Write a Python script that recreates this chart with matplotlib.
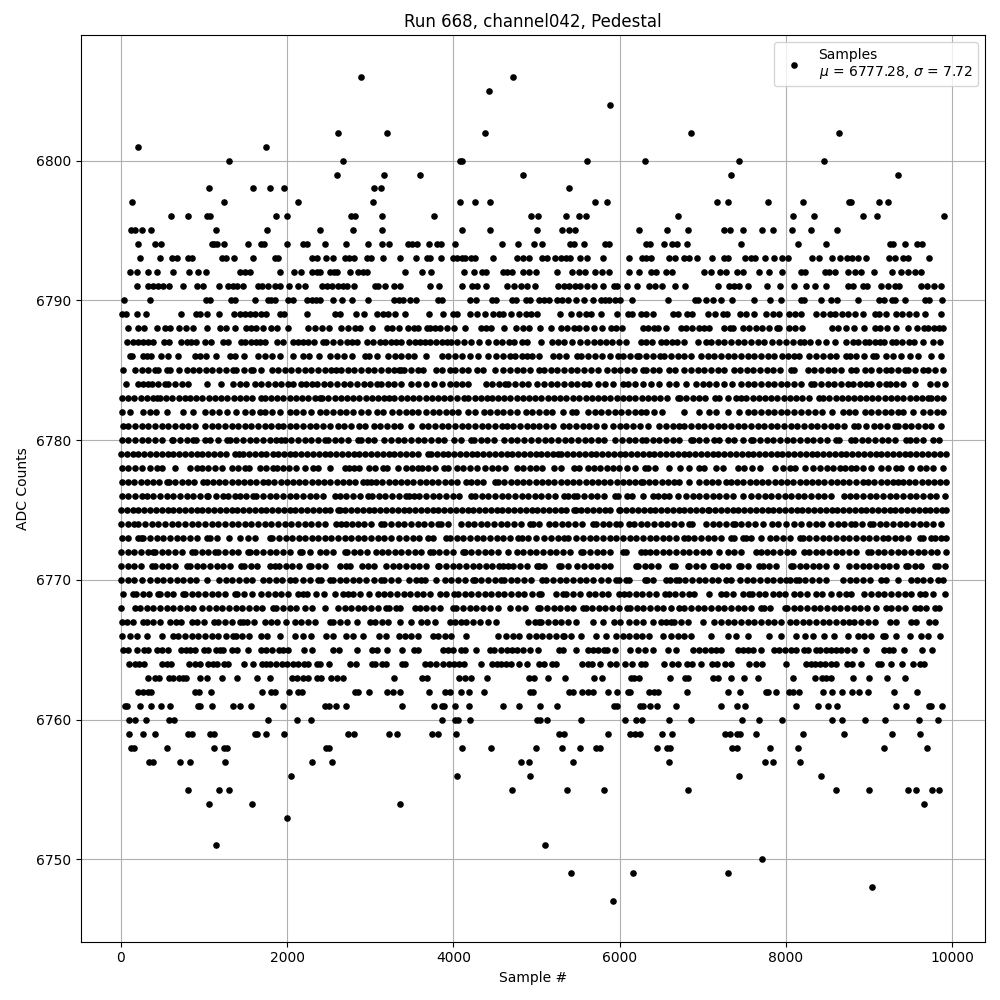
import matplotlib
matplotlib.use('Agg')
import matplotlib.pyplot as plt

# sample numbers, one list per ADC level
s6806 = [2893, 4716]
s6805 = [4426]
s6804 = [5887]
s6802 = [2616, 3207, 4378, 6865, 8640]
s6801 = [201, 1746]
s6800 = [1300, 2676, 4084, 4108, 5610, 6310, 7433, 8459]
s6799 = [2604, 3171, 3593, 4837, 7336, 9352]
s6798 = [1058, 1590, 1795, 1964, 3050, 3123, 5392]
s6797 = [129, 1239, 2133, 3038, 4076, 4257, 4439, 5706, 5851, 7167, 7300, 7783, 8205, 8756, 8789, 9123, 9232]
s6796 = [600, 805, 1038, 1070, 1867, 2000, 2773, 2821, 3147, 3762, 4934, 5018, 5356, 5513, 5598, 6708, 8084, 8338, 8930, 9099, 9908]
s6795 = [117, 165, 249, 358, 1143, 1759, 2398, 2797, 3147, 4100, 4439, 5005, 5307, 5388, 5468, 6237, 6575, 6829, 7251, 7324, 7481, 7710, 7843, 8072, 8301, 8616]
s6794 = [201, 406, 479, 1095, 1123, 1151, 1239, 1529, 1690, 1718, 2000, 2193, 2233, 2459, 2712, 2978, 3135, 3231, 3449, 3497, 3557, 3706, 3799, 3847, 4016, 4587, 4777, 4970, 5066, 5408, 5448, 5569, 5827, 5875, 6322, 6362, 6539, 6628, 6696, 6817, 7457, 8145, 8483, 9259, 9292, 9440, 9581, 9634]
s6793 = [225, 467, 612, 672, 805, 853, 1215, 1264, 1360, 1590, 1855, 1891, 2302, 2362, 2467, 2555, 2700, 2748, 2809, 2966, 3014, 3159, 3352, 3545, 3682, 3722, 3847, 3992, 4044, 4104, 4145, 4213, 4265, 4475, 4765, 4837, 4909, 5066, 5127, 5227, 5299, 5356, 5408, 5529, 5610, 5803, 6117, 6274, 6314, 6382, 6600, 6664, 6769, 6841, 6926, 7107, 7259, 7308, 7505, 7582, 7634, 7746, 7855, 7952, 8024, 8314, 8398, 8555, 8656, 8736, 8797, 8869, 8966, 9243, 9316, 9412, 9469, 9726]
s6792 = [105, 189, 322, 435, 624, 817, 926, 1022, 1433, 1493, 1553, 1915, 2084, 2169, 2302, 2354, 2394, 2515, 2563, 2603, 2760, 2857, 2917, 2966, 3412, 3618, 3726, 4125, 4245, 4346, 4398, 4599, 4648, 4708, 4837, 4909, 4994, 5246, 5428, 5509, 5581, 5710, 5791, 5871, 6117, 6237, 6374, 6435, 6555, 6628, 7018, 7099, 7207, 7280, 7408, 7481, 7682, 7795, 7952, 8185, 8237, 8467, 8515, 8592, 8749, 8829, 8909, 9062, 9280, 9392, 9473, 9553, 9622]
s6791 = [189, 322, 390, 443, 503, 575, 744, 913, 986, 1175, 1284, 1348, 1400, 1469, 1650, 1702, 1771, 1851, 1911, 2024, 2133, 2213, 2414, 2483, 2543, 2608, 2676, 2716, 2809, 3058, 3098, 3179, 3280, 3360, 3714, 3823, 4104, 4225, 4286, 4390, 4648, 4728, 4809, 4889, 4986, 5259, 5327, 5388, 5468, 5529, 5610, 5690, 5795, 5932, 5972, 6093, 6209, 6354, 6426, 6515, 6672, 6793, 7179, 7312, 7380, 7441, 7541, 7771, 7928, 8097, 8241, 8346, 8483, 8749, 8809, 8930, 8978, 9151, 9232, 9312, 9364, 9622, 9694, 9787, 9871]
s6790 = [32, 346, 1026, 1074, 1328, 1368, 1618, 1771, 1811, 1859, 2012, 2072, 2233, 2294, 2346, 2394, 2555, 2656, 2785, 2978, 3288, 3340, 3392, 3473, 3545, 3811, 3863, 4197, 4277, 4467, 4507, 4708, 4748, 4869, 4926, 5026, 5087, 5147, 5247, 5307, 5380, 5481, 5569, 5682, 5771, 5823, 5871, 5944, 6000, 6153, 6588, 6905, 6946, 7038, 7119, 7215, 7348, 7614, 7807, 7940, 8185, 8225, 8426, 8547, 8616, 8869, 9119, 9179, 9272, 9312, 9440, 9674, 9726, 9883]
s6789 = [8, 60, 189, 298, 720, 897, 946, 1034, 1175, 1356, 1429, 1497, 1557, 1610, 1690, 1750, 1911, 1960, 2241, 2575, 2636, 2833, 2930, 3078, 3159, 3219, 3300, 3420, 3702, 3871, 3992, 4044, 4197, 4286, 4378, 4475, 4547, 4595, 4688, 4789, 4869, 4938, 5006, 5283, 5412, 5513, 5598, 5650, 5779, 5972, 6105, 6153, 6253, 6322, 6406, 6644, 6708, 6817, 6877, 7058, 7151, 7239, 7287, 7449, 7521, 7614, 7763, 7843, 7924, 8044, 8105, 8185, 8366, 8447, 8527, 8587, 8676, 8749, 8833, 8933, 9074, 9123, 9203, 9332, 9404, 9485, 9565, 9670, 9871]
s6788 = [89, 205, 274, 431, 535, 592, 696, 781, 865, 1034, 1191, 1268, 1368, 1509, 1569, 1630, 1710, 1811, 1879, 2012, 2245, 2334, 2422, 2499, 2652, 2736, 2817, 2877, 3018, 3199, 3260, 3340, 3449, 3521, 3569, 3682, 3722, 3783, 3843, 3923, 4004, 4145, 4338, 4398, 4455, 4608, 4757, 4837, 4909, 5046, 5175, 5296, 5368, 5448, 5509, 5590, 5690, 5783, 5891, 5960, 6032, 6286, 6346, 6414, 6466, 6563, 6736, 6797, 6877, 6950, 7018, 7070, 7255, 7332, 7368, 7481, 7561, 7642, 7710, 7795, 7891, 7924, 8044, 8105, 8197, 8555, 8628, 8724, 8821, 8946, 9070, 9139, 9223, 9324, 9473, 9573, 9662, 9714, 9787, 9847, 9896]
s6787 = [68, 141, 201, 262, 322, 390, 515, 583, 724, 793, 845, 905, 1006, 1086, 1227, 1288, 1449, 1497, 1569, 1630, 1670, 1734, 1879, 1952, 2072, 2133, 2193, 2253, 2326, 2426, 2467, 2555, 2636, 2716, 2777, 2837, 2958, 3038, 3119, 3179, 3247, 3312, 3368, 3465, 3541, 3601, 3662, 3722, 3795, 3863, 3923, 3972, 4044, 4125, 4213, 4306, 4418, 4507, 4587, 4668, 4728, 4829, 4889, 5054, 5187, 5259, 5328, 5428, 5529, 5610, 5690, 5759, 5839, 5903, 5992, 6072, 6253, 6314, 6394, 6499, 6563, 6636, 6696, 6769, 6938, 7038, 7099, 7179, 7259, 7340, 7420, 7501, 7582, 7662, 7742, 7835, 7924, 8004, 8084, 8165, 8225, 8286, 8386, 8487, 8587, 8728, 8809, 8869, 8950, 9002, 9070, 9131, 9179, 9272, 9332, 9404, 9477, 9545, 9650, 9775, 9855]
s6786 = [108, 136, 260, 316, 356, 480, 568, 688, 892, 956, 1024, 1148, 1312, 1376, 1476, 1652, 1736, 1820, 1916, 2072, 2192, 2268, 2388, 2520, 2600, 2680, 2784, 2940, 2988, 3080, 3208, 3300, 3368, 3450, 3530, 3676, 3860, 3936, 4016, 4100, 4196, 4292, 4416, 4508, 4596, 4680, 4740, 4820, 4888, 4948, 5032, 5193, 5270, 5350, 5482, 5538, 5620, 5700, 5790, 5880, 5976, 6036, 6120, 6205, 6237, 6320, 6400, 6482, 6538, 6620, 6700, 6780, 6860, 6980, 7060, 7140, 7220, 7300, 7380, 7460, 7540, 7620, 7700, 7780, 7860, 7950, 8030, 8100, 8160, 8277, 8365, 8445, 8526, 8600, 8727, 8770, 8850, 8940, 9050, 9090, 9200, 9290, 9390, 9500, 9590, 9750, 9870]
s6785 = [24, 164, 256, 330, 408, 448, 556, 588, 700, 790, 865, 940, 1020, 1100, 1180, 1265, 1350, 1390, 1480, 1570, 1590, 1680, 1820, 1890, 1970, 2050, 2130, 2210, 2290, 2370, 2450, 2530, 2590, 2650, 2730, 2810, 2890, 2970, 3050, 3130, 3210, 3280, 3350, 3370, 3410, 3490, 3570, 3640, 3790, 3860, 3955, 4020, 4100, 4180, 4280, 4360, 4500, 4600, 4680, 4760, 4840, 4920, 5030, 5090, 5170, 5250, 5330, 5410, 5490, 5570, 5650, 5735, 5850, 5930, 6010, 6090, 6170, 6280, 6320, 6400, 6480, 6600, 6670, 6780, 6860, 6940, 7020, 7100, 7180, 7260, 7380, 7450, 7530, 7610, 7690, 7770, 7850, 7930, 8060, 8100, 8265, 8345, 8425, 8505, 8585, 8665, 8790, 8850, 8950, 9030, 9120, 9210, 9270, 9350, 9430, 9470, 9560, 9650, 9710, 9800, 9890]
s6784 = [56, 200, 270, 330, 370, 450, 530, 570, 650, 730, 810, 1030, 1205, 1350, 1430, 1510, 1610, 1690, 1770, 1850, 1930, 2010, 2070, 2170, 2230, 2300, 2360, 2440, 2520, 2600, 2680, 2760, 2840, 2920, 3000, 3080, 3130, 3210, 3290, 3370, 3490, 3570, 3670, 3770, 3860, 3955, 4030, 4100, 4170, 4390, 4470, 4550, 4620, 4660, 4740, 4820, 4900, 5010, 5090, 5170, 5250, 5330, 5410, 5490, 5570, 5630, 5735, 5820, 5915, 6035, 6105, 6190, 6280, 6380, 6480, 6600, 6680, 6800, 6920, 7000, 7080, 7160, 7260, 7350, 7460, 7540, 7620, 7700, 7780, 7860, 7940, 8020, 8100, 8180, 8300, 8345, 8425, 8505, 8585, 8665, 8745, 8810, 8890, 8970, 9030, 9120, 9210, 9250, 9330, 9410, 9550, 9730, 9820, 9910]
s6783 = [10, 85, 160, 235, 310, 385, 430, 470, 545, 620, 695, 770, 830, 905, 980, 1055, 1130, 1205, 1280, 1355, 1430, 1505, 1580, 1690, 1730, 1805, 1880, 1955, 2030, 2105, 2180, 2255, 2330, 2390, 2420, 2495, 2570, 2645, 2720, 2795, 2870, 2945, 3020, 3095, 3170, 3230, 3290, 3365, 3440, 3515, 3590, 3665, 3740, 3815, 3890, 3965, 4040, 4130, 4180, 4255, 4330, 4410, 4460, 4535, 4610, 4685, 4760, 4835, 4910, 4985, 5060, 5135, 5210, 5285, 5360, 5440, 5515, 5590, 5665, 5740, 5815, 5890, 5965, 6040, 6115, 6190, 6265, 6340, 6415, 6490, 6565, 6700, 6730, 6805, 6880, 6955, 7030, 7150, 7200, 7300, 7400, 7460, 7520, 7600, 7675, 7750, 7825, 7900, 7975, 8050, 8125, 8200, 8275, 8400, 8450, 8525, 8600, 8675, 8745, 8815, 8890, 8965, 9040, 9115, 9190, 9265, 9340, 9415, 9490, 9565, 9640, 9710, 9750, 9825, 9890]
s6782 = [10, 110, 270, 345, 420, 550, 750, 870, 1010, 1090, 1180, 1270, 1390, 1490, 1580, 1670, 1730, 1820, 1910, 2030, 2110, 2190, 2290, 2390, 2470, 2550, 2630, 2710, 2790, 2885, 2970, 3080, 3150, 3260, 3350, 3430, 3500, 3570, 3670, 3750, 3830, 3910, 3980, 4050, 4175, 4260, 4370, 4440, 4520, 4600, 4680, 4760, 4870, 4940, 5030, 5110, 5190, 5320, 5430, 5480, 5620, 5700, 5780, 5860, 5940, 6020, 6100, 6180, 6260, 6320, 6420, 6510, 6770, 6960, 7080, 7160, 7300, 7440, 7540, 7620, 7700, 7780, 7860, 7940, 8020, 8100, 8180, 8270, 8350, 8430, 8550, 8690, 8760, 8830, 8950, 9030, 9110, 9190, 9270, 9350, 9410, 9530, 9650, 9730, 9820, 9890]
s6781 = [20, 90, 170, 250, 330, 410, 490, 570, 650, 730, 810, 890, 1010, 1090, 1170, 1250, 1330, 1410, 1490, 1570, 1650, 1730, 1810, 1890, 1950, 2030, 2110, 2190, 2270, 2350, 2430, 2510, 2610, 2680, 2770, 2860, 2940, 3040, 3120, 3200, 3280, 3360, 3490, 3620, 3700, 3780, 3860, 3940, 4020, 4100, 4180, 4260, 4340, 4420, 4500, 4580, 4640, 4720, 4800, 4880, 4960, 5030, 5120, 5195, 5315, 5395, 5475, 5555, 5635, 5715, 5810, 5915, 6000, 6080, 6160, 6240, 6345, 6480, 6560, 6640, 6720, 6780, 6860, 6940, 7020, 7100, 7180, 7260, 7340, 7420, 7500, 7580, 7660, 7740, 7820, 7900, 7980, 8060, 8140, 8220, 8300, 8380, 8460, 8540, 8620, 8700, 8820, 8870, 8960, 9060, 9130, 9220, 9310, 9350, 9430, 9510, 9590, 9670, 9750, 9870]
s6780 = [10, 90, 170, 250, 330, 410, 490, 610, 630, 710, 790, 870, 900, 1010, 1070, 1170, 1270, 1310, 1390, 1470, 1550, 1630, 1710, 1790, 1860, 1930, 1970, 2050, 2130, 2210, 2290, 2370, 2450, 2490, 2570, 2650, 2730, 2850, 2890, 2970, 3050, 3170, 3250, 3330, 3410, 3490, 3570, 3650, 3730, 3810, 3890, 4010, 4090, 4210, 4250, 4330, 4410, 4490, 4610, 4690, 4770, 4850, 4930, 5020, 5100, 5180, 5260, 5340, 5420, 5500, 5580, 5660, 5740, 5815, 5950, 6030, 6110, 6190, 6275, 6320, 6400, 6480, 6560, 6640, 6720, 6860, 6880, 6960, 7040, 7140, 7200, 7300, 7380, 7480, 7580, 7610, 7690, 7770, 7850, 7930, 8010, 8090, 8170, 8250, 8330, 8410, 8490, 8600, 8645, 8785, 8835, 8915, 8995, 9075, 9155, 9235, 9315, 9450, 9490, 9570, 9650, 9770, 9840]
s6779 = [0, 70, 140, 210, 280, 350, 420, 490, 560, 630, 700, 770, 840, 910, 980, 1050, 1120, 1190, 1260, 1370, 1420, 1470, 1540, 1610, 1680, 1750, 1830, 1890, 1960, 2030, 2100, 2170, 2240, 2310, 2380, 2450, 2520, 2590, 2660, 2730, 2800, 2870, 2940, 3010, 3080, 3150, 3220, 3290, 3360, 3430, 3500, 3570, 3690, 3730, 3800, 3870, 3940, 4010, 4080, 4150, 4220, 4290, 4360, 4430, 4500, 4570, 4640, 4710, 4780, 4850, 4920, 4990, 5060, 5130, 5200, 5260, 5300, 5370, 5440, 5510, 5580, 5650, 5720, 5790, 5860, 5930, 6000, 6070, 6140, 6210, 6280, 6350, 6420, 6490, 6560, 6630, 6700, 6770, 6840, 6910, 6980, 7050, 7120, 7190, 7260, 7330, 7400, 7470, 7540, 7610, 7680, 7750, 7820, 7890, 7960, 8030, 8100, 8170, 8240, 8310, 8380, 8450, 8520, 8590, 8660, 8730, 8800, 8870, 8940, 9010, 9080, 9150, 9220, 9290, 9360, 9430, 9500, 9570, 9640, 9710, 9780, 9850, 9930]
s6778 = [10, 90, 170, 250, 350, 430, 495, 650, 830, 910, 970, 1050, 1130, 1220, 1330, 1410, 1490, 1540, 1670, 1750, 1830, 1880, 1950, 2020, 2110, 2210, 2310, 2370, 2510, 2690, 2740, 2800, 2870, 2990, 3060, 3150, 3200, 3330, 3430, 3500, 3570, 3620, 3700, 3780, 3890, 3940, 4040, 4120, 4200, 4280, 4380, 4460, 4540, 4620, 4760, 4840, 4920, 5000, 5070, 5210, 5290, 5450, 5510, 5615, 5690, 5770, 5850, 5915, 5995, 6095, 6180, 6300, 6340, 6430, 6590, 6725, 6830, 6960, 7020, 7160, 7240, 7420, 7500, 7590, 7690, 7875, 7965, 8045, 8115, 8235, 8330, 8410, 8490, 8570, 8650, 8710, 8790, 8850, 8930, 9020, 9150, 9230, 9330, 9390, 9510, 9610, 9690, 9770, 9890]
s6777 = [10, 85, 160, 235, 310, 385, 460, 550, 580, 655, 730, 805, 880, 990, 1030, 1105, 1180, 1255, 1330, 1405, 1480, 1555, 1630, 1710, 1770, 1845, 1920, 1995, 2070, 2145, 2220, 2295, 2370, 2445, 2520, 2595, 2670, 2745, 2820, 2910, 2960, 3010, 3070, 3145, 3220, 3295, 3370, 3445, 3520, 3595, 3670, 3745, 3820, 3895, 3970, 4045, 4150, 4210, 4285, 4360, 4500, 4540, 4615, 4690, 4765, 4840, 4915, 4990, 5065, 5140, 5215, 5290, 5365, 5440, 5515, 5590, 5665, 5740, 5815, 5890, 5965, 6040, 6115, 6190, 6260, 6280, 6355, 6430, 6505, 6580, 6655, 6720, 6840, 6960, 7040, 7115, 7190, 7280, 7340, 7415, 7490, 7565, 7640, 7715, 7790, 7865, 7940, 8015, 8090, 8165, 8240, 8315, 8390, 8465, 8540, 8615, 8690, 8765, 8840, 8930, 8990, 9065, 9140, 9215, 9290, 9350, 9410, 9485, 9560, 9635, 9710, 9785, 9860, 9930]
s6776 = [10, 90, 170, 255, 310, 390, 470, 550, 630, 710, 790, 870, 950, 1030, 1050, 1140, 1230, 1290, 1370, 1430, 1510, 1590, 1630, 1710, 1790, 1870, 1950, 2030, 2110, 2190, 2270, 2350, 2430, 2570, 2630, 2710, 2790, 2880, 2970, 3020, 3100, 3180, 3260, 3340, 3430, 3470, 3530, 3590, 3670, 3750, 3830, 3910, 3990, 4070, 4210, 4255, 4340, 4420, 4500, 4580, 4660, 4740, 4820, 4900, 4980, 5060, 5140, 5220, 5335, 5375, 5450, 5490, 5570, 5650, 5730, 5810, 5940, 5975, 6095, 6155, 6280, 6400, 6460, 6530, 6600, 6700, 6800, 6880, 6960, 7040, 7120, 7200, 7280, 7360, 7480, 7585, 7665, 7745, 7825, 7905, 7985, 8065, 8145, 8225, 8305, 8385, 8465, 8545, 8705, 8770, 8850, 8930, 9010, 9090, 9170, 9250, 9330, 9410, 9490, 9570, 9650, 9730, 9810, 9910]
s6775 = [0, 70, 140, 210, 280, 350, 420, 490, 560, 630, 700, 770, 840, 910, 980, 1050, 1120, 1190, 1260, 1330, 1400, 1470, 1540, 1610, 1680, 1750, 1820, 1890, 1960, 2030, 2100, 2170, 2240, 2310, 2380, 2450, 2520, 2610, 2630, 2700, 2770, 2840, 2910, 2980, 3050, 3120, 3190, 3260, 3330, 3400, 3470, 3540, 3610, 3680, 3750, 3820, 3890, 3960, 4030, 4100, 4170, 4240, 4310, 4380, 4450, 4520, 4590, 4660, 4730, 4800, 4870, 4940, 5010, 5080, 5150, 5220, 5290, 5360, 5450, 5470, 5540, 5610, 5680, 5750, 5820, 5890, 5990, 6010, 6080, 6150, 6220, 6290, 6360, 6430, 6500, 6570, 6640, 6710, 6780, 6850, 6920, 6990, 7060, 7080, 7150, 7220, 7290, 7360, 7430, 7500, 7570, 7640, 7710, 7780, 7850, 7920, 7990, 8060, 8130, 8200, 8270, 8340, 8410, 8480, 8550, 8620, 8690, 8760, 8830, 8900, 8970, 9040, 9110, 9180, 9250, 9320, 9390, 9460, 9530, 9600, 9670, 9740, 9810, 9880, 9930]
s6774 = [0, 90, 155, 210, 290, 370, 450, 530, 610, 690, 770, 850, 930, 1010, 1090, 1170, 1250, 1330, 1410, 1490, 1570, 1650, 1730, 1810, 1890, 1970, 2050, 2130, 2210, 2290, 2370, 2450, 2590, 2650, 2710, 2780, 2850, 2930, 3010, 3130, 3170, 3250, 3330, 3410, 3490, 3570, 3650, 3730, 3810, 3850, 3930, 4090, 4170, 4250, 4330, 4410, 4490, 4570, 4650, 4730, 4810, 4920, 4960, 5030, 5145, 5225, 5305, 5385, 5465, 5545, 5675, 5715, 5795, 5875, 5960, 6000, 6115, 6175, 6255, 6335, 6415, 6495, 6575, 6655, 6735, 6840, 6870, 7040, 7120, 7200, 7280, 7360, 7385, 7465, 7545, 7625, 7720, 7830, 7905, 8000, 8100, 8185, 8280, 8365, 8440, 8545, 8625, 8705, 8790, 8830, 8920, 9010, 9050, 9130, 9210, 9290, 9370, 9450, 9530, 9610, 9690, 9770, 9870]
s6773 = [10, 90, 210, 235, 270, 350, 430, 510, 590, 670, 750, 830, 910, 1030, 1070, 1150, 1300, 1430, 1530, 1610, 1790, 1820, 1900, 1980, 2060, 2140, 2220, 2300, 2370, 2450, 2530, 2610, 2690, 2770, 2850, 2930, 3010, 3090, 3170, 3255, 3350, 3430, 3510, 3590, 3690, 3755, 3915, 3960, 4040, 4120, 4200, 4280, 4360, 4440, 4520, 4600, 4680, 4780, 4820, 4900, 5000, 5095, 5175, 5255, 5335, 5380, 5480, 5560, 5640, 5720, 5800, 5880, 5960, 6040, 6120, 6200, 6280, 6360, 6440, 6520, 6600, 6680, 6780, 6820, 6900, 6980, 7060, 7140, 7220, 7340, 7380, 7480, 7520, 7580, 7700, 7805, 7885, 7965, 8045, 8165, 8205, 8285, 8365, 8445, 8525, 8605, 8685, 8765, 8845, 8925, 9005, 9085, 9170, 9230, 9310, 9390, 9470, 9610, 9650, 9750, 9790, 9870, 9930]
s6772 = [0, 80, 160, 240, 320, 390, 410, 490, 570, 650, 730, 850, 890, 970, 1050, 1130, 1170, 1250, 1330, 1410, 1530, 1550, 1630, 1710, 1790, 1870, 1950, 2030, 2150, 2180, 2270, 2390, 2470, 2550, 2690, 2720, 2800, 2880, 2960, 3070, 3135, 3215, 3295, 3375, 3455, 3535, 3615, 3715, 3750, 3830, 3910, 3990, 4115, 4135, 4215, 4295, 4375, 4455, 4535, 4660, 4760, 4840, 4920, 5000, 5080, 5160, 5240, 5320, 5400, 5535, 5565, 5645, 5725, 5805, 5885, 6035, 6075, 6255, 6300, 6360, 6440, 6520, 6600, 6680, 6760, 6840, 6920, 7000, 7080, 7200, 7300, 7380, 7460, 7640, 7700, 7770, 7850, 7930, 8010, 8090, 8225, 8280, 8360, 8440, 8520, 8600, 8680, 8760, 8840, 8985, 9025, 9105, 9185, 9265, 9345, 9425, 9505, 9585, 9665, 9745, 9825, 9930]
s6771 = [0, 80, 160, 240, 370, 410, 490, 570, 650, 790, 830, 910, 990, 1070, 1150, 1230, 1310, 1450, 1480, 1560, 1640, 1790, 1850, 1900, 1980, 2060, 2140, 2260, 2290, 2370, 2450, 2640, 2710, 2760, 2900, 2970, 3050, 3190, 3270, 3350, 3430, 3510, 3590, 3670, 3810, 3830, 3910, 3990, 4070, 4150, 4230, 4310, 4390, 4470, 4550, 4600, 4660, 4720, 4800, 4880, 5030, 5010, 5090, 5270, 5300, 5380, 5490, 5575, 5650, 5730, 5810, 5890, 6195, 6220, 6300, 6380, 6460, 6630, 6670, 6820, 6840, 6920, 7000, 7120, 7150, 7230, 7310, 7440, 7460, 7540, 7680, 7720, 7800, 7880, 8065, 8085, 8165, 8245, 8325, 8405, 8485, 8605, 8765, 8845, 8925, 9005, 9085, 9165, 9245, 9325, 9450, 9470, 9550, 9630, 9790, 9830, 9910]
s6770 = [0, 80, 160, 250, 350, 430, 510, 590, 670, 750, 830, 900, 1030, 1180, 1260, 1340, 1420, 1500, 1580, 1710, 1780, 1860, 1940, 2030, 2100, 2185, 2280, 2370, 2410, 2510, 2550, 2630, 2710, 2790, 2870, 2950, 3050, 3130, 3170, 3250, 3330, 3470, 3545, 3615, 3660, 3795, 3895, 3975, 4055, 4135, 4235, 4255, 4335, 4415, 4495, 4570, 4610, 4690, 4770, 4850, 4930, 5070, 5120, 5200, 5280, 5360, 5440, 5520, 5600, 5680, 5775, 5855, 5955, 5995, 6075, 6110, 6300, 6325, 6405, 6560, 6610, 6680, 6710, 6790, 6870, 6950, 7030, 7110, 7190, 7280, 7340, 7450, 7530, 7610, 7690, 7770, 7850, 7930, 8005, 8045, 8125, 8155, 8235, 8315, 8395, 8485, 8690, 8770, 8850, 8930, 9010, 9150, 9200, 9350, 9510, 9575, 9655, 9735, 9830, 9890]
s6769 = [30, 150, 180, 260, 340, 450, 470, 550, 630, 750, 770, 850, 930, 1010, 1090, 1170, 1250, 1370, 1400, 1480, 1580, 1690, 1770, 1850, 1930, 2010, 2130, 2185, 2240, 2350, 2445, 2580, 2670, 2730, 2790, 2880, 2990, 3095, 3160, 3240, 3320, 3400, 3480, 3560, 3640, 3720, 3835, 3915, 4005, 4055, 4135, 4215, 4295, 4375, 4455, 4535, 4615, 4695, 4775, 4855, 4940, 5030, 5060, 5235, 5315, 5360, 5440, 5520, 5635, 5700, 5785, 5855, 5995, 6055, 6115, 6195, 6275, 6355, 6435, 6550, 6590, 6670, 6750, 6830, 6900, 7080, 7220, 7280, 7360, 7480, 7555, 7595, 7675, 7755, 7845, 7915, 7995, 8095, 8175, 8255, 8365, 8440, 8545, 8640, 8730, 8790, 8945, 9025, 9105, 9185, 9270, 9350, 9430, 9510, 9610, 9680, 9770, 9910]
s6768 = [0, 170, 230, 310, 390, 470, 550, 630, 710, 790, 870, 970, 1060, 1140, 1220, 1300, 1380, 1460, 1540, 1620, 1700, 1830, 1870, 1950, 2030, 2110, 2210, 2300, 2450, 2610, 2690, 2770, 2850, 2930, 3010, 3090, 3190, 3225, 3315, 3355, 3535, 3595, 3675, 3755, 3835, 3995, 4035, 4115, 4195, 4275, 4355, 4435, 4535, 4680, 4780, 4860, 5020, 5045, 5125, 5205, 5285, 5365, 5445, 5555, 5590, 5670, 5750, 5830, 5910, 5990, 6095, 6125, 6205, 6285, 6365, 6445, 6525, 6620, 6710, 6780, 6860, 6940, 7020, 7100, 7180, 7260, 7340, 7420, 7500, 7580, 7700, 7735, 7815, 7985, 8015, 8095, 8175, 8255, 8335, 8415, 8495, 8575, 8655, 8735, 8815, 8895, 8975, 9090, 9210, 9270, 9350, 9430, 9550, 9610, 9690, 9790, 9840]
s6767 = [10, 70, 150, 270, 310, 390, 470, 590, 660, 720, 850, 920, 1000, 1120, 1170, 1250, 1330, 1430, 1465, 1520, 1600, 1730, 1810, 1880, 1990, 2090, 2170, 2250, 2330, 2510, 2550, 2630, 2720, 2835, 2995, 3055, 3135, 3215, 3355, 3495, 3615, 3685, 3775, 3955, 4015, 4095, 4155, 4235, 4315, 4415, 4510, 4900, 5030, 4980, 5060, 5140, 5220, 5295, 5375, 5480, 5675, 5805, 5935, 6005, 6115, 6195, 6285, 6400, 6500, 6560, 6620, 6660, 6740, 6820, 7000, 7140, 7220, 7300, 7380, 7460, 7540, 7620, 7700, 7780, 7860, 7945, 8045, 8125, 8205, 8285, 8365, 8445, 8525, 8605, 8685, 8765, 8820, 8910, 8990, 9070, 9250, 9330, 9510, 9570, 9720, 9800]
s6766 = [15, 105, 190, 315, 490, 630, 690, 770, 850, 930, 1010, 1090, 1170, 1260, 1350, 1390, 1460, 1540, 1680, 1760, 1910, 2090, 2190, 2290, 2470, 2550, 2710, 2790, 2910, 3110, 3190, 3350, 3415, 3495, 3575, 3755, 3815, 3895, 3975, 4155, 4535, 4635, 4715, 4795, 4910, 5000, 5070, 5150, 5230, 5315, 5335, 5415, 5535, 5715, 5835, 5955, 6035, 6115, 6195, 6275, 6355, 6520, 6620, 6700, 6780, 6860, 7100, 7310, 7400, 7540, 7795, 7945, 8125, 8235, 8325, 8465, 8575, 8745, 8870, 8940, 9020, 9170, 9190, 9330, 9490, 9630, 9710, 9850]
s6765 = [20, 80, 189, 282, 330, 435, 495, 563, 724, 785, 825, 885, 998, 1046, 1139, 1187, 1227, 1340, 1396, 1529, 1690, 1750, 1823, 1899, 1952, 2012, 2205, 2298, 2555, 2628, 2837, 3018, 3086, 3207, 3376, 3521, 3569, 3875, 3935, 3996, 4092, 4137, 4277, 4439, 4487, 4575, 4648, 4708, 4769, 4837, 4926, 5018, 5276, 5320, 5477, 5622, 5678, 5738, 5811, 5851, 5940, 6129, 6225, 6310, 6406, 6587, 6680, 6885, 6958, 7030, 7099, 7159, 7219, 7420, 7481, 7541, 7602, 7698, 7863, 7916, 7996, 8064, 8125, 8213, 8265, 8358, 8414, 8479, 8547, 8608, 8668, 8736, 8821, 8966, 9179, 9239, 9292, 9428, 9634, 9762]
s6764 = [93, 173, 221, 274, 491, 551, 604, 817, 885, 946, 1046, 1107, 1155, 1239, 1288, 1481, 1594, 1698, 1742, 1795, 1871, 1932, 2000, 2072, 2133, 2201, 2253, 2362, 2394, 2507, 2760, 2829, 3018, 3058, 3139, 3187, 3380, 3420, 3662, 3714, 3787, 3871, 3944, 4004, 4064, 4125, 4338, 4467, 4527, 4575, 4628, 4688, 4785, 4889, 5026, 5095, 5187, 5235, 5549, 5622, 5670, 5759, 5883, 5952, 6064, 6145, 6253, 6306, 6539, 6628, 6708, 6817, 6877, 6974, 7111, 7167, 7263, 7336, 7561, 7642, 7710, 8000, 8245, 8306, 8346, 8406, 8471, 8543, 8608, 8740, 8797, 8905, 9111, 9151, 9267, 9400, 9533, 9614, 9662]
s6763 = [322, 414, 463, 575, 632, 696, 752, 785, 950, 1034, 1219, 1396, 1638, 1795, 2056, 2121, 2185, 2253, 2362, 2402, 2523, 2603, 2668, 3280, 3622, 3682, 4064, 4137, 4209, 4402, 4909, 4966, 5135, 5344, 5694, 5791, 6133, 6173, 6233, 6612, 6785, 6825, 7127, 7183, 7336, 7493, 7662, 8084, 8350, 8434, 8487, 8539, 8809, 9002, 9219, 9436]
s6762 = [201, 262, 322, 366, 885, 934, 1082, 1702, 1811, 1851, 2024, 2133, 2173, 2817, 2857, 2986, 3199, 3268, 3352, 3702, 3903, 3964, 4092, 4185, 4366, 4918, 4954, 5388, 5444, 5549, 5622, 5682, 5863, 5972, 6105, 6125, 6358, 6414, 6467, 6817, 7300, 7445, 7762, 7791, 7879, 8044, 8084, 8157, 8447, 8555, 8676, 8797, 8881, 8990, 9304, 9581]
s6761 = [44, 68, 225, 358, 479, 587, 926, 954, 1095, 1348, 1433, 1565, 1952, 2459, 2507, 2591, 2712, 3376, 3762, 3859, 3883, 4016, 4185, 4595, 4789, 5042, 5247, 5932, 5964, 6241, 6282, 6370, 6455, 6684, 7215, 7408, 7505, 8121, 8386, 8507, 8616, 9328, 9449, 9726, 9750, 9883]
s6760 = [101, 165, 298, 583, 640, 1771, 2121, 2290, 3859, 4024, 4060, 4197, 5002, 5038, 5127, 5537, 6068, 6201, 6274, 6600, 6865, 7469, 7674, 7952, 8555, 8676, 8954, 9195, 9606, 9835]
s6759 = [93, 262, 406, 801, 853, 1070, 1115, 1610, 1638, 1746, 1964, 2736, 2809, 3231, 3316, 3738, 3811, 4028, 5276, 5328, 5863, 6129, 6181, 6249, 6515, 6636, 7263, 7324, 7408, 7449, 7638, 8205, 8700, 9280, 9618]
s6758 = [121, 153, 551, 1119, 1235, 1272, 2467, 2499, 4100, 4451, 4994, 5308, 5525, 5718, 5767, 6455, 6575, 6608, 7348, 7408, 7807, 8145, 9183, 9702]
s6757 = [334, 382, 708, 829, 1251, 2302, 2543, 4813, 4905, 5441, 6600, 7746, 7843, 8169]
s6756 = [2048, 4040, 4920, 7433, 8422]
s6755 = [805, 1179, 1300, 4704, 5368, 5815, 6829, 8604, 9002, 9473, 9569, 9762, 9847]
s6754 = [1058, 1577, 3352, 9666]
s6753 = [2000]
s6751 = [1143, 5103]
s6750 = [7710]
s6749 = [5417, 6165, 7300]
s6748 = [9038]
s6747 = [5924]

levels = [6806, 6805, 6804, 6802, 6801, 6800, 6799, 6798, 6797, 6796, 6795, 6794, 6793, 6792,
          6791, 6790, 6789, 6788, 6787, 6786, 6785, 6784, 6783, 6782, 6781, 6780, 6779, 6778,
          6777, 6776, 6775, 6774, 6773, 6772, 6771, 6770, 6769, 6768, 6767, 6766, 6765, 6764,
          6763, 6762, 6761, 6760, 6759, 6758, 6757, 6756, 6755, 6754, 6753, 6751, 6750, 6749,
          6748, 6747]
samples = [s6806, s6805, s6804, s6802, s6801, s6800, s6799, s6798, s6797, s6796, s6795, s6794, s6793, s6792,
           s6791, s6790, s6789, s6788, s6787, s6786, s6785, s6784, s6783, s6782, s6781, s6780, s6779, s6778,
           s6777, s6776, s6775, s6774, s6773, s6772, s6771, s6770, s6769, s6768, s6767, s6766, s6765, s6764,
           s6763, s6762, s6761, s6760, s6759, s6758, s6757, s6756, s6755, s6754, s6753, s6751, s6750, s6749,
           s6748, s6747]

x = []
y = []
for level, row in zip(levels, samples):
    x += row
    y += [level] * len(row)

fig, ax = plt.subplots(figsize=(10, 10))
ax.plot(x, y, 'k.', ms=7.5, label='Samples\n$\\mu$ = 6777.28, $\\sigma$ = 7.72')
ax.set_xlim(-481, 10397)
ax.set_ylim(6744.13, 6808.98)
ax.grid()
ax.set_title('Run 668, channel042, Pedestal')
ax.set_xlabel('Sample #')
ax.set_ylabel('ADC Counts')
ax.legend(loc='upper right')
fig.subplots_adjust(left=0.081, right=0.985, top=0.965, bottom=0.0585)
fig.savefig('out.png', dpi=100)
